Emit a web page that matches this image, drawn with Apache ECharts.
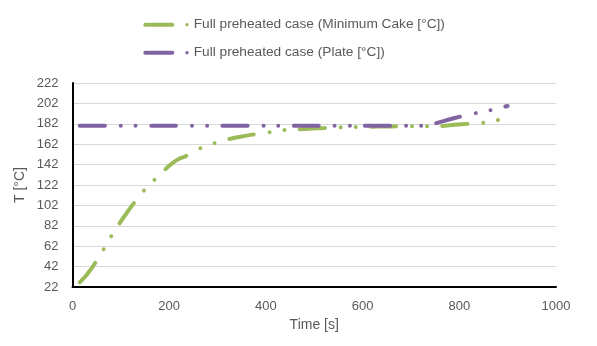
<!DOCTYPE html>
<html>
<head>
<meta charset="utf-8">
<script src="https://cdn.jsdelivr.net/npm/echarts@6/dist/echarts.min.js"></script>
<style>html,body{margin:0;padding:0;background:#fff}#c{width:597px;height:346px}</style>
</head>
<body>
<div id="c"></div>
<script>
// ---- data ----
var seriesNames = ['Full preheated case (Minimum Cake [°C])', 'Full preheated case (Plate [°C])'];
var cakeTime = [15, 25, 35, 47, 55, 64, 80, 99, 112, 125, 147, 169, 194, 208, 220, 233, 264, 293, 326, 350, 372, 406, 437, 467, 495, 524, 553, 584, 615, 645, 670, 701, 731, 760, 790, 819, 848, 879, 890];
var cakeTemp = [26.5, 31.5, 37.5, 45.5, 52, 58.6, 71.6, 85.7, 94.5, 103, 116.2, 126.8, 138.3, 144, 147.5, 150, 157.9, 162.8, 167.4, 169.6, 171.4, 173.6, 175.8, 176.6, 177.3, 177.8, 178.5, 178.8, 179.2, 179.4, 179.5, 179.6, 179.7, 179.8, 181, 182, 183, 185.6, 186.5];
var plateTime = [15, 100, 200, 300, 400, 500, 600, 700, 730, 754, 777, 800, 834, 865, 900];
var plateTemp = [180, 180, 180, 180, 180, 180, 180, 180, 180, 182.9, 186, 188.8, 192.5, 195.4, 199.5];
var xTickLabels = ['0', '200', '400', '600', '800', '1000'];
var yTickLabels = ['22', '42', '62', '82', '102', '122', '142', '162', '182', '202', '222'];

function pairs(a, b) { return a.map(function (v, i) { return [v, b[i]]; }); }

var green = '#9bbb59', purple = '#8064a2';
var dashPattern = [25, 16, 0.01, 15, 0.01, 15.3];
var iconPath = 'path://M2,0 H29 A2,2 0 0 1 29,4 H2 A2,2 0 0 1 2,0 Z M43.7,0.3 A1.7,1.7 0 1 1 43.7,3.7 A1.7,1.7 0 1 1 43.7,0.3 Z';

var chart = echarts.init(document.getElementById('c'), null, {renderer: 'canvas'});
chart.setOption({
  animation: false,
  backgroundColor: '#fff',
  textStyle: {fontFamily: 'Liberation Sans'},
  legend: {
    orient: 'vertical',
    left: 143.3, top: 16.7, padding: 0,
    itemWidth: 45.4, itemHeight: 4,
    itemGap: 12,
    textStyle: {color: '#595959', fontSize: 13.7, lineHeight: 16, fontFamily: 'Liberation Sans'},
    data: [
      {name: seriesNames[0], icon: iconPath},
      {name: seriesNames[1], icon: iconPath}
    ]
  },
  grid: {left: 72.5, right: 41, top: 83, bottom: 59, containLabel: false},
  xAxis: {
    type: 'value', min: 0, max: 1000, interval: 200,
    name: 'Time [s]', nameLocation: 'middle', nameGap: 29,
    nameTextStyle: {color: '#595959', fontSize: 14},
    axisLine: {show: true, lineStyle: {color: '#000', width: 2}},
    axisTick: {show: false},
    splitLine: {show: false},
    axisLabel: {color: '#595959', fontSize: 13, margin: 13,
      formatter: function (v) { return xTickLabels[Math.round(v / 200)]; }}
  },
  yAxis: [
    {type: 'value', min: 22, max: 222, show: false, splitLine: {show: false}},
    {
      type: 'value', min: 0, max: 200, interval: 20, position: 'left',
      name: 'T [°C]', nameLocation: 'middle', nameGap: 45, nameMoveOverlap: false,
      nameTextStyle: {color: '#595959', fontSize: 14},
      axisLine: {show: true, lineStyle: {color: '#000', width: 2}},
      axisTick: {show: false},
      splitLine: {show: true, lineStyle: {color: '#d9d9d9', width: 1}},
      axisLabel: {color: '#595959', fontSize: 13, margin: 14,
        formatter: function (v) { return yTickLabels[Math.round(v / 20)]; }}
    }
  ],
  series: [
    {
      name: seriesNames[0], type: 'line', yAxisIndex: 0,
      data: pairs(cakeTime, cakeTemp), showSymbol: false, smooth: 0.3,
      itemStyle: {color: green},
      lineStyle: {color: green, width: 4, type: dashPattern, cap: 'round', join: 'round'}
    },
    {
      name: seriesNames[1], type: 'line', yAxisIndex: 0,
      data: pairs(plateTime, plateTemp), showSymbol: false, smooth: 0.2,
      itemStyle: {color: purple},
      lineStyle: {color: purple, width: 4, type: dashPattern, cap: 'round', join: 'round'}
    }
  ]
});
</script>
</body>
</html>
